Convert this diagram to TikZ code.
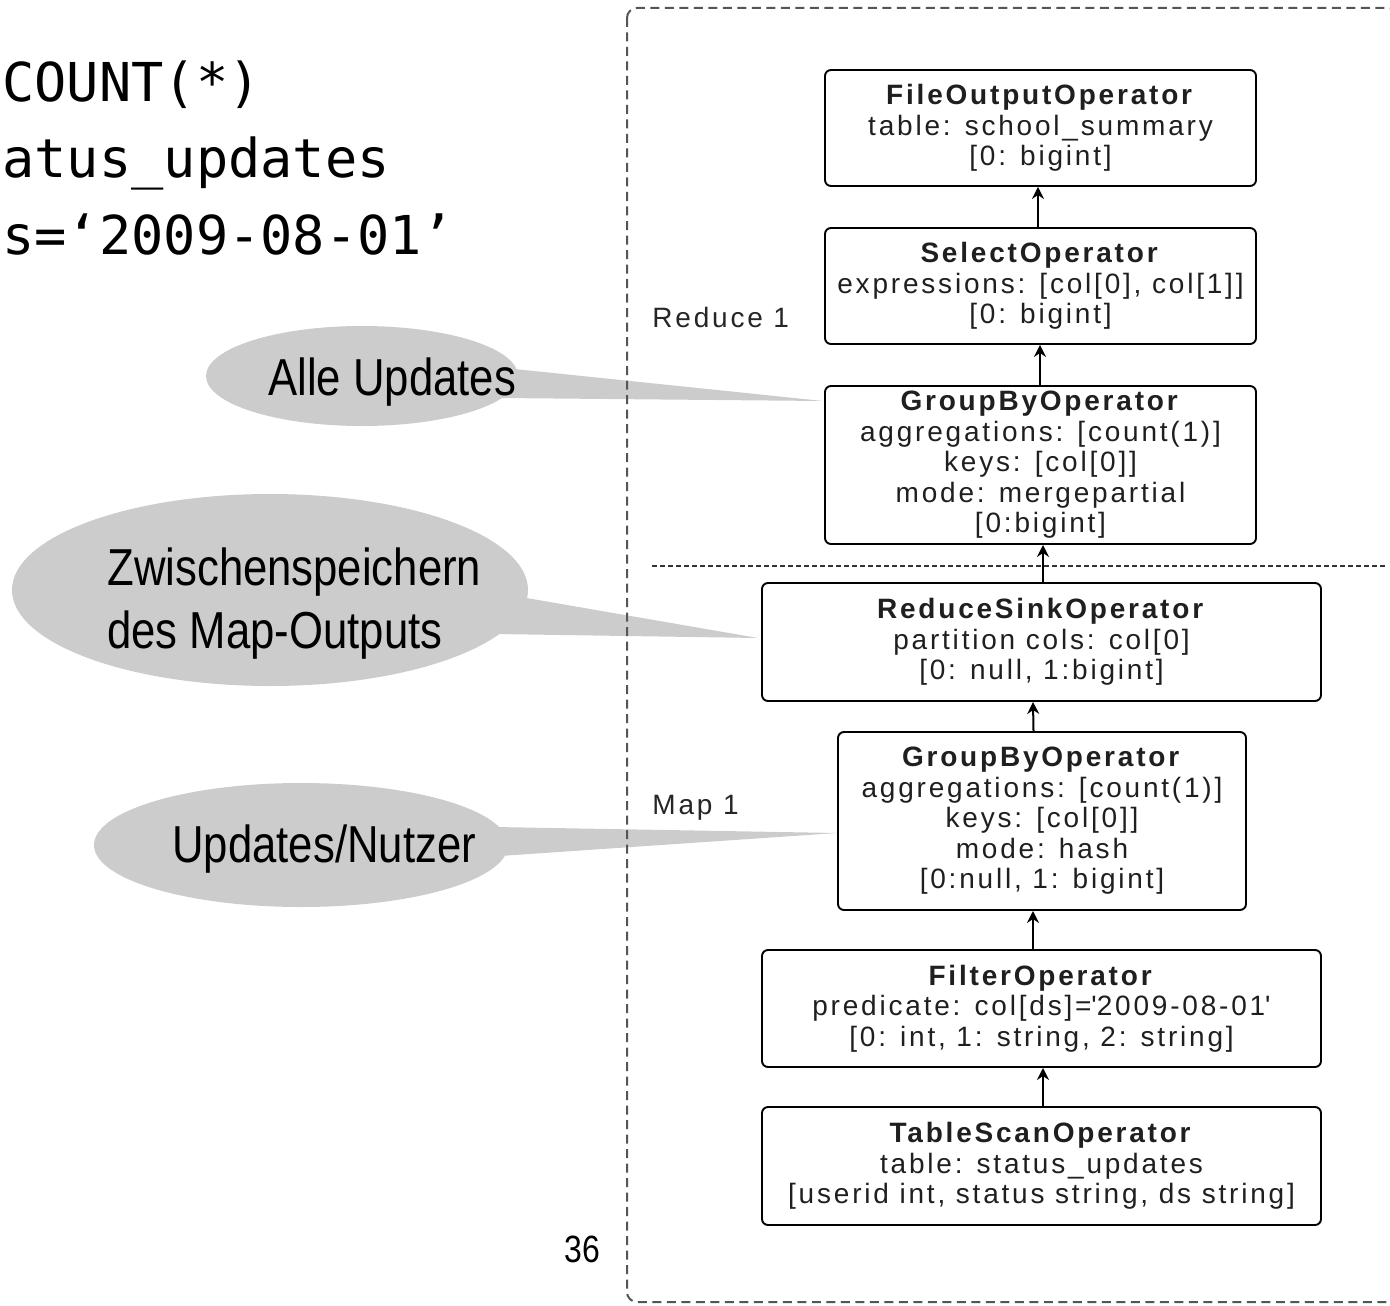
\documentclass[tikz,border=0pt]{standalone}
\usepackage{fontspec}
\usetikzlibrary{shapes.geometric,arrows.meta}
\newfontfamily\opfont[LetterSpace=10]{Liberation Sans}
\newfontfamily\callfont[FakeStretch=0.84]{Liberation Sans}
\newfontfamily\codefont{DejaVu Sans Mono}
\definecolor{callgray}{RGB}{204,204,204}
\definecolor{framegray}{RGB}{85,85,85}
\tikzset{
  opbox/.style={draw, line width=0.95pt, rounded corners=3pt, align=center,
    font=\opfont\fontsize{14pt}{15.25pt}\selectfont, inner sep=0pt, text=black!88},
  phase/.style={font=\opfont\fontsize{14pt}{15.25pt}\selectfont, anchor=base west, inner sep=0pt, text=black!85},
  flow/.style={line width=1pt, -{Stealth[length=6pt,width=6pt]}},
  bubble/.style={ellipse, fill=callgray, draw=none, inner sep=0pt},
  bubbletext/.style={font=\callfont\fontsize{26pt}{31.5pt}\selectfont, inner sep=0pt, align=left},
  code/.style={font=\codefont\fontsize{26.8pt}{31pt}\selectfont, anchor=base west, inner sep=0pt}
}
\begin{document}
\begin{tikzpicture}[x=0.5pt,y=-0.5pt]
\useasboundingbox (0,0) rectangle (1390,1305);

% query fragment
\node[code] (q1) at (2,102) {COUNT(*)};
\node[code] (q2) at (2,178) {atus\_updates};
\node[code] (q3) at (2,254) {s=‘2009-08-01’};

% operator tree
\node[opbox, minimum width=215.5pt, minimum height=58pt] (fo) at (1040.5,128)
  {\textbf{FileOutputOperator}\\table: school\_summary\\{[0: bigint]}};
\node[opbox, minimum width=215.5pt, minimum height=58pt] (sel) at (1040.5,286)
  {\textbf{SelectOperator}\\expressions: [col[0], col[1]]\\{[0: bigint]}};
\node[opbox, minimum width=215.5pt, minimum height=79pt] (gbr) at (1040.5,465)
  {\textbf{GroupByOperator}\\aggregations: [count(1)]\\keys: [col[0]]\\mode: mergepartial\\{[0:bigint]}};
\node[opbox, minimum width=279.5pt, minimum height=59pt] (rs) at (1041.5,642)
  {\textbf{ReduceSinkOperator}\\partition cols: col[0]\\{[0: null, 1:bigint]}};
\node[opbox, minimum width=204pt, minimum height=89pt] (gbm) at (1042,821)
  {\textbf{GroupByOperator}\\aggregations: [count(1)]\\keys: [col[0]]\\mode: hash\\{[0:null, 1: bigint]}};
\node[opbox, minimum width=279.5pt, minimum height=58.5pt] (fil) at (1041.5,1008.5)
  {\textbf{FilterOperator}\\predicate: col[ds]=\textquotesingle2009-08-01\textquotesingle\\{[0: int, 1: string, 2: string]}};
\node[opbox, minimum width=279.5pt, minimum height=59pt] (ts) at (1041.5,1166)
  {\textbf{TableScanOperator}\\table: status\_updates\\{[userid int, status string, ds string]}};

\draw[flow] ([xshift=-1.25pt]sel.north) -- ([xshift=-1.25pt]fo.south);
\draw[flow] ([xshift=-0.25pt]gbr.north) -- ([xshift=-0.25pt]sel.south);
\draw[flow] ([xshift=0.75pt]rs.north) -- ([xshift=1.25pt]gbr.south);
\draw[flow] ([xshift=-4.25pt]gbm.north) -- ([xshift=-4.25pt]rs.south);
\draw[flow] ([xshift=-4.25pt]fil.north) -- ([xshift=-4.5pt]gbm.south);
\draw[flow] ([xshift=0.75pt]ts.north) -- ([xshift=0.75pt]fil.south);

% phase labels and separator
\node[phase] (red) at (652,327) {Reduce 1};
\node[phase] (map) at (652,814) {Map 1};
\coordinate (sepL) at (652,566);
\coordinate (sepR) at (1388,566);
\draw[line width=0.75pt, dash pattern=on 2.5pt off 1.5pt, black!80] (sepL) -- (sepR);

% callouts
\coordinate (tipA) at (823,401);
\coordinate (tipB) at (758,638);
\coordinate (tipC) at (837,833);
\node[bubble, minimum width=156pt, minimum height=50pt] (ca) at (362,376) {};
\fill[callgray] (505,368) -- (tipA) -- (500,398) -- cycle;
\node[bubbletext, anchor=base west] (cat) at (268,395) {Alle Updates};

\node[bubble, minimum width=258pt, minimum height=96pt] (cb) at (270,590) {};
\fill[callgray] (515,596) -- (tipB) -- (495,634) -- cycle;
\node[bubbletext, anchor=base west] (cbt1) at (107,585) {Zwischenspeichern};
\node[bubbletext, anchor=base west] (cbt2) at (107,648) {des Map-Outputs};

\node[bubble, minimum width=207pt, minimum height=62pt] (cc) at (301,845) {};
\fill[callgray] (495,827) -- (tipC) -- (500,856) -- cycle;
\node[bubbletext, anchor=base west] (cct) at (172,862) {Updates/Nutzer};

% outer dashed frame
\draw[framegray, line width=1pt, dash pattern=on 4.5pt off 2.75pt, rounded corners=5pt]
  (627,8) rectangle (1398,1302);

% page number
\node[font=\callfont\fontsize{19pt}{22pt}\selectfont, anchor=base, inner sep=0pt] (pg) at (582,1262) {36};
\end{tikzpicture}
\end{document}
